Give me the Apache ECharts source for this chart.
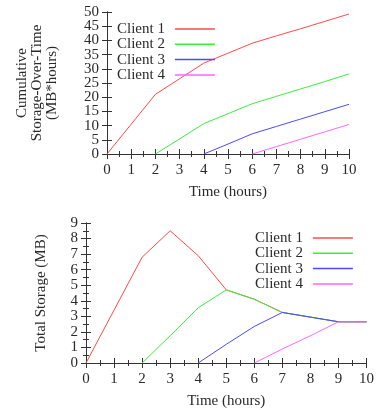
<!DOCTYPE html>
<html>
<head>
<meta charset="utf-8">
<script src="https://cdn.jsdelivr.net/npm/echarts@6/dist/echarts.min.js"></script>
<style>html,body{margin:0;padding:0;background:#fff}#c{width:377px;height:410px}</style>
</head>
<body>
<div id="c"></div>
<script>
const hours = [0,1,2,3,4,5,6,7,8,9,10];
const clientNames = ['Client 1','Client 2','Client 3','Client 4'];
const colors = ['#ff4a4a','#3aee3a','#4a4aff','#ff66ff'];

// Cumulative Storage-Over-Time (MB*hours)
const cum1 = [0, 10.5, 21, 26.5, 32, 35.5, 39, 41.6, 44.1, 46.7, 49.3];
const cum2 = [null, null, 0, 5.3, 10.7, 14.2, 17.7, 20.3, 22.9, 25.5, 28.2];
const cum3 = [null, null, null, null, 0, 3.5, 7.1, 9.7, 12.3, 14.9, 17.5];
const cum4 = [null, null, null, null, null, null, 0, 2.6, 5.2, 7.8, 10.4];

// Total Storage (MB)
const tot1 = [0, 3.4, 6.8, 8.5, 6.9, 4.7, 4.1, 3.25, 2.95, 2.65, 2.65];
const tot2 = [null, null, 0, 1.75, 3.55, 4.7, 4.1, 3.25, 2.95, 2.65, 2.65];
const tot3 = [null, null, null, null, 0, 1.2, 2.35, 3.25, 2.95, 2.65, 2.65];
const tot4 = [null, null, null, null, null, null, 0, 0.9, 1.75, 2.65, 2.65];

const cumSeries = [cum1, cum2, cum3, cum4];
const totSeries = [tot1, tot2, tot3, tot4];

const FONT = 'Liberation Serif';
const txt = {fontFamily: FONT, fontSize: 15, fontWeight: 'normal', color: '#2a2a2a'};
const axisLine = {show: true, lineStyle: {color: '#333', width: 1}};
const labelOpts = {margin: 8, showMinLabel: true, showMaxLabel: true, hideOverlap: false};

function xAx(grid, pos, show) {
  return {
    type: 'value', gridIndex: grid, position: pos, min: 0, max: 10, interval: 1,
    axisLine: axisLine,
    axisTick: {show: true, inside: true, length: 5, lineStyle: {color: '#333'}},
    minorTick: {show: true, splitNumber: 2, length: 3, lineStyle: {color: '#333'}},
    splitLine: {show: false},
    axisLabel: show ? Object.assign({}, txt, labelOpts, {margin: 9}) : {show: false},
    name: show ? 'Time (hours)' : '',
    nameLocation: 'middle', nameGap: 31,
    nameTextStyle: txt
  };
}
function yAx(grid, pos, show, max, interval, minor, name, gap, fmt) {
  const lab = show ? Object.assign({}, txt, labelOpts) : {show: false};
  if (fmt) lab.formatter = fmt;
  return {
    type: 'value', gridIndex: grid, position: pos, min: 0, max: max, interval: interval,
    axisLine: axisLine,
    axisTick: {show: true, inside: true, length: 5, lineStyle: {color: '#333'}},
    minorTick: {show: minor, splitNumber: 2, length: 3, lineStyle: {color: '#333'}},
    splitLine: {show: false},
    axisLabel: lab,
    name: show ? name : '',
    nameLocation: 'middle', nameGap: gap,
    nameTextStyle: Object.assign({}, txt, {lineHeight: 15})
  };
}

const series = [];
cumSeries.forEach((arr, i) => {
  series.push({
    name: clientNames[i], type: 'line', xAxisIndex: 0, yAxisIndex: 0,
    data: hours.map((h, k) => [h, arr[k]]),
    showSymbol: false, symbol: 'none', connectNulls: false,
    lineStyle: {color: colors[i], width: 1}, itemStyle: {color: colors[i]},
    silent: true, animation: false
  });
});
totSeries.forEach((arr, i) => {
  series.push({
    name: clientNames[i], type: 'line', xAxisIndex: 1, yAxisIndex: 1,
    data: hours.map((h, k) => [h, arr[k]]),
    showSymbol: false, symbol: 'none', connectNulls: false,
    lineStyle: {color: colors[i], width: 1}, itemStyle: {color: colors[i]},
    silent: true, animation: false
  });
});

const legendBase = {
  orient: 'vertical', align: 'right', itemWidth: 40, itemHeight: 15, itemGap: 0.3,
  icon: 'path://M0,0 L40,0 L40,1.5 L0,1.5 Z',
  textStyle: Object.assign({padding: [0, 5, 0, 0]}, txt),
  selectedMode: false, data: clientNames
};

// odd-multiple labels of the top chart live on a twin axis so none get culled
const oddAxis = yAx(0, 'left', true, 50, 5, false, '', 0, v => (v % 10 === 5 ? String(v) : ''));
oddAxis.axisLine = {show: false};
oddAxis.axisTick = {show: false};
oddAxis.name = '';

const option = {
  animation: false,
  backgroundColor: '#fff',
  grid: [
    {left: 107, right: 28, top: 12, height: 142},
    {left: 86, right: 10, top: 223, height: 140}
  ],
  xAxis: [xAx(0, 'bottom', true), xAx(1, 'bottom', true), xAx(0, 'top', false), xAx(1, 'top', false)],
  yAxis: [
    yAx(0, 'left', true, 50, 5, false, 'Cumulative\nStorage-Over-Time\n(MB*hours)', 47, v => (v % 10 === 0 ? String(v) : '')),
    yAx(1, 'left', true, 9, 1, true, 'Total Storage (MB)', 37),
    yAx(0, 'right', false, 50, 5, false, ''),
    yAx(1, 'right', false, 9, 1, true, ''),
    oddAxis
  ],
  legend: [
    Object.assign({left: 112, top: 16.5}, legendBase),
    Object.assign({left: 250, top: 225.5}, legendBase)
  ],
  series: series
};

const chart = echarts.init(document.getElementById('c'), null, {renderer: 'canvas'});
chart.setOption(option);
</script>
</body>
</html>
